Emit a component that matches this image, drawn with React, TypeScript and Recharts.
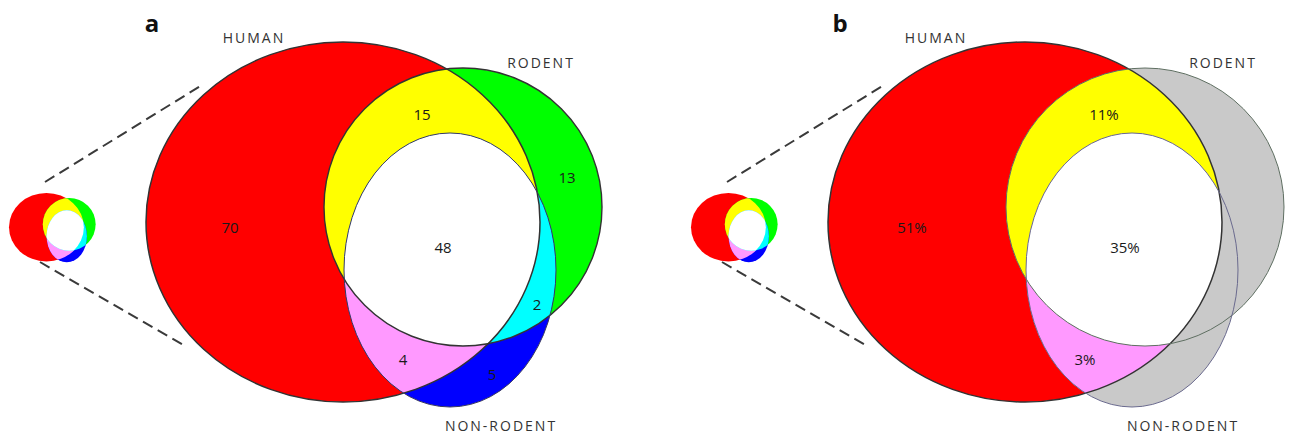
import { ScatterChart, Scatter, XAxis, YAxis, ReferenceLine } from "recharts";

const W = 1292;
const H = 434;

// the three sets, ellipse geometry of panel a in chart units
const setNames = ["HUMAN", "RODENT", "NON-RODENT"];
const setCx = [343, 463, 450];
const setCy = [222, 207, 270];
const setRx = [197, 139, 106];
const setRy = [180, 139, 137];

// regions: H only, H∩R, R only, H∩R∩N, R∩N, H∩N, N only
const regionKeys = ["H", "HR", "R", "HRN", "RN", "HN", "N"];
const countsA = [70, 15, 13, 48, 2, 4, 5];
const sharesB = [51, 11, null, 35, null, 3, null];

// label anchors (panel a, chart units)
const regionLabelX = [230, 422, 567, 443, 537, 403, 492];
const regionLabelY = [233, 120, 183, 253, 310, 365, 380];
const setLabelX = [254, 541, 501];
const setLabelY = [43, 68, 431];

const panelLetters = ["a", "b"];
const panelLetterX = [152, 840];
const panelShift = [0, 682];

// thumbnail = the same diagram at 0.19 scale
const THUMB_SCALE = 0.19;
const thumbFrom = { x: 146, y: 42 };
const thumbTo = { x: 9, y: 193 };

// dashed "zoom" lines, panel a
const zoomLines = [
  [{ x: 45, y: 182 }, { x: 202, y: 85 }],
  [{ x: 40, y: 262 }, { x: 185, y: 346 }],
];

const RED = "#ff0000";
const YELLOW = "#ffff00";
const GREEN = "#00ff00";
const BLUE = "#0000ff";
const CYAN = "#00ffff";
const PINK = "#ff99ff";
const GRAY = "#c9c9c9";

const baseFills = [
  [RED, GREEN, BLUE],
  [RED, GRAY, GRAY],
];
const cyanFill = [CYAN, GRAY];

type Ell = { id: string; x: number; y: number; rx: number; ry: number };

function ellipsesFor(p: number, thumb: boolean): Ell[] {
  return setNames.map((_, i) => {
    let x = setCx[i];
    let y = setCy[i];
    let rx = setRx[i];
    let ry = setRy[i];
    if (thumb) {
      x = thumbTo.x + (x - thumbFrom.x) * THUMB_SCALE;
      y = thumbTo.y + (y - thumbFrom.y) * THUMB_SCALE;
      rx *= THUMB_SCALE;
      ry *= THUMB_SCALE;
    }
    return { id: `${thumb ? "t" : ""}${panelLetters[p]}-${i}`, x: x + panelShift[p], y, rx, ry };
  });
}

const allEllipses: Ell[] = [];
const fillLayers: any[] = [];
const outlines: any[] = [];
[0, 1].forEach((p) => {
  [false, true].forEach((thumb) => {
    const e = ellipsesFor(p, thumb);
    allEllipses.push(...e);
    // thumbnails keep the colour version
    const fills = thumb ? baseFills[0] : baseFills[p];
    const cyan = thumb ? CYAN : cyanFill[p];
    const layer = (s: number, clips: number[], fill: string) =>
      fillLayers.push({ ...e[s], fill, clips: clips.map((c) => e[c].id) });
    layer(0, [], fills[0]);
    layer(1, [], fills[1]);
    layer(2, [], fills[2]);
    layer(1, [0], YELLOW);
    layer(2, [0], PINK);
    layer(2, [1], cyan);
    layer(2, [0, 1], "#ffffff");
    if (!thumb) {
      outlines.push({ ...e[0], stroke: "#333333", sw: 1.5 });
      outlines.push({ ...e[1], stroke: p === 0 ? "#333333" : "#5f6f62", sw: p === 0 ? 1.4 : 1 });
      outlines.push({ ...e[2], stroke: p === 0 ? "#3a3a60" : "#6a6a8e", sw: 1 });
    }
  });
});

const textItems: any[] = [];
[0, 1].forEach((p) => {
  const values = p === 0 ? countsA.map(String) : sharesB.map((v) => (v == null ? null : `${v}%`));
  regionKeys.forEach((k, i) => {
    if (values[i] == null) return;
    textItems.push({ x: regionLabelX[i] + panelShift[p], y: regionLabelY[i], label: values[i], kind: "value" });
  });
  setNames.forEach((n, i) => {
    textItems.push({ x: setLabelX[i] + panelShift[p], y: setLabelY[i], label: n, kind: "set" });
  });
  textItems.push({ x: panelLetterX[p], y: 32, label: panelLetters[p], kind: "letter" });
});

const ClipShape = (props: any) => {
  const { cx, cy, payload } = props;
  const kx = cx / payload.x;
  const ky = cy / payload.y;
  return (
    <clipPath id={payload.id}>
      <ellipse cx={cx} cy={cy} rx={payload.rx * kx} ry={payload.ry * ky} />
    </clipPath>
  );
};

const FillShape = (props: any) => {
  const { cx, cy, payload } = props;
  const kx = cx / payload.x;
  const ky = cy / payload.y;
  let el = <ellipse cx={cx} cy={cy} rx={payload.rx * kx} ry={payload.ry * ky} fill={payload.fill} />;
  payload.clips.forEach((c: string) => {
    el = <g clipPath={`url(#${c})`}>{el}</g>;
  });
  return <g>{el}</g>;
};

const OutlineShape = (props: any) => {
  const { cx, cy, payload } = props;
  const kx = cx / payload.x;
  const ky = cy / payload.y;
  return (
    <ellipse
      cx={cx}
      cy={cy}
      rx={payload.rx * kx}
      ry={payload.ry * ky}
      fill="none"
      stroke={payload.stroke}
      strokeWidth={payload.sw}
    />
  );
};

const TextShape = (props: any) => {
  const { cx, cy, payload } = props;
  if (payload.kind === "letter")
    return (
      <text x={cx} y={cy} textAnchor="middle" fontFamily="Open Sans" fontWeight={700} fontSize={24} fill="#111">
        {payload.label}
      </text>
    );
  if (payload.kind === "set")
    return (
      <text x={cx} y={cy} textAnchor="middle" fontFamily="Open Sans" fontSize={14} letterSpacing={2} fill="#333">
        {payload.label}
      </text>
    );
  return (
    <text x={cx} y={cy} textAnchor="middle" fontFamily="Open Sans" fontSize={15} fill="#1a1a1a">
      {payload.label}
    </text>
  );
};

export default function App() {
  return (
    <div style={{ position: "absolute", left: 0, top: 0, background: "#fff" }}>
      <ScatterChart width={W} height={H} margin={{ top: 0, right: 0, bottom: 0, left: 0 }}>
        <XAxis type="number" dataKey="x" domain={[0, W]} hide />
        <YAxis type="number" dataKey="y" domain={[0, H]} reversed hide />
        {[0, 1].map((p) =>
          zoomLines.map((seg, i) => (
            <ReferenceLine
              key={`z-${p}-${i}`}
              segment={seg.map((pt) => ({ x: pt.x + panelShift[p], y: pt.y }))}
              stroke="#3a3a3a"
              strokeWidth={2}
              strokeDasharray="11 6"
              ifOverflow="visible"
            />
          ))
        )}
        <Scatter data={allEllipses} shape={ClipShape} isAnimationActive={false} />
        <Scatter data={fillLayers} shape={FillShape} isAnimationActive={false} />
        <Scatter data={outlines} shape={OutlineShape} isAnimationActive={false} />
        <Scatter data={textItems} shape={TextShape} isAnimationActive={false} />
      </ScatterChart>
    </div>
  );
}
